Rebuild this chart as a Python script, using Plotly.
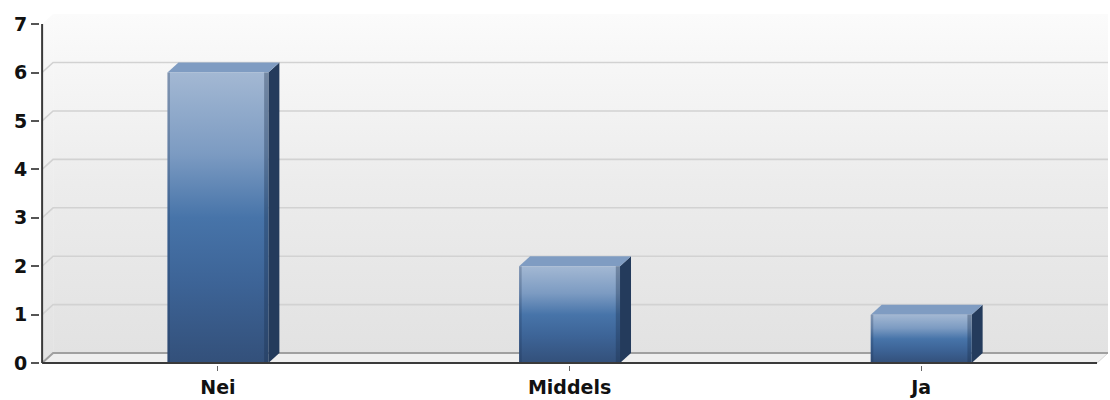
import plotly.graph_objects as go

# ---- data ----
categories = ["Nei", "Middels", "Ja"]
values = [6, 2, 1]
y_ticks = [0, 1, 2, 3, 4, 5, 6, 7]
y_max = 7

# ---- geometry (in axis units) ----
BAR_W = 0.287          # bar width in category units
DX = 11 / 351.6        # 3D depth offset along x
DY = 10 / 48.42        # 3D depth offset along y
X0, X1 = -0.5, len(categories) - 0.5

fig = go.Figure()

wall_grad = dict(type="vertical",
                 colorscale=[[0, "#e2e2e2"], [0.5, "#ececec"], [1, "#fbfbfb"]])

# back wall
fig.add_trace(go.Scatter(
    x=[X0 + DX, X1 + DX, X1 + DX, X0 + DX, X0 + DX],
    y=[DY, DY, y_max + DY, y_max + DY, DY],
    mode="none", fill="toself", fillgradient=wall_grad,
    hoverinfo="skip", showlegend=False))
# left side wall
fig.add_trace(go.Scatter(
    x=[X0, X0 + DX, X0 + DX, X0, X0],
    y=[0, DY, y_max + DY, y_max, 0],
    mode="none", fill="toself", fillgradient=wall_grad,
    hoverinfo="skip", showlegend=False))
# floor
fig.add_trace(go.Scatter(
    x=[X0, X0 + DX, X1 + DX, X1, X0],
    y=[0, DY, DY, 0, 0],
    mode="lines", fill="toself", fillcolor="#efefef",
    line=dict(color="#d6d6d6", width=1),
    hoverinfo="skip", showlegend=False))
# floor back edge
fig.add_trace(go.Scatter(
    x=[X0, X0 + DX, X1 + DX], y=[0, DY, DY],
    mode="lines", line=dict(color="#a0a0a0", width=2),
    hoverinfo="skip", showlegend=False))

# gridlines on the walls
gx, gy = [], []
for k in y_ticks[1:-1]:
    gx += [X0, X0 + DX, X1 + DX, None]
    gy += [k, k + DY, k + DY, None]
fig.add_trace(go.Scatter(x=gx, y=gy, mode="lines",
                         line=dict(color="#d2d2d2", width=1.6),
                         hoverinfo="skip", showlegend=False))

front_grad = dict(type="vertical",
                  colorscale=[[0, "#33507a"], [0.28, "#3d6497"], [0.5, "#4774a9"],
                              [0.72, "#7c9bc2"], [1, "#a3b8d3"]])

for i, (c, v) in enumerate(zip(categories, values)):
    xl, xr = i - BAR_W / 2, i + BAR_W / 2
    # side face
    fig.add_trace(go.Scatter(
        x=[xr, xr + DX, xr + DX, xr, xr], y=[0, DY, v + DY, v, 0],
        mode="none", fill="toself", fillcolor="#243b5c",
        hoverinfo="skip", showlegend=False))
    # top face
    fig.add_trace(go.Scatter(
        x=[xl, xl + DX, xr + DX, xr, xl], y=[v, v + DY, v + DY, v, v],
        mode="none", fill="toself", fillcolor="#7f9cc2",
        hoverinfo="skip", showlegend=False))
    # front face
    fig.add_trace(go.Scatter(
        x=[xl, xr, xr, xl, xl], y=[0, 0, v, v, 0],
        mode="none", fill="toself", fillgradient=front_grad,
        name=c, hoveron="fills", text=f"{c}: {v}", hoverinfo="text",
        showlegend=False))
    # edge shading on the front face
    e = 0.012
    fig.add_trace(go.Scatter(
        x=[xr - e, xr, xr, xr - e, xr - e], y=[0, 0, v, v, 0],
        mode="none", fill="toself", fillcolor="rgba(25,45,75,0.35)",
        hoverinfo="skip", showlegend=False))
    fig.add_trace(go.Scatter(
        x=[xl, xl + e * 0.6, xl + e * 0.6, xl, xl], y=[0, 0, v, v, 0],
        mode="none", fill="toself", fillcolor="rgba(25,45,75,0.25)",
        hoverinfo="skip", showlegend=False))

# axis lines
fig.add_trace(go.Scatter(x=[X0, X0], y=[0, y_max], mode="lines",
                         line=dict(color="#3a3a3a", width=2),
                         hoverinfo="skip", showlegend=False))
fig.add_trace(go.Scatter(x=[X0, X1], y=[0, 0], mode="lines",
                         line=dict(color="#3a3a3a", width=2),
                         hoverinfo="skip", showlegend=False))

fig.update_layout(
    width=1110, height=400,
    margin=dict(l=40, r=2, t=12, b=35),
    paper_bgcolor="white", plot_bgcolor="white",
    showlegend=False,
    xaxis=dict(range=[X0 - 0.006, X1 + DX], showgrid=False, zeroline=False,
               showline=False, tickmode="array", automargin=False,
               tickvals=list(range(len(categories))), ticktext=categories,
               ticks="outside", ticklen=5, tickwidth=1, tickcolor="#666",
               tickfont=dict(family="DejaVu Sans", size=19, color="#111",
                             weight="bold"),
               fixedrange=True),
    yaxis=dict(range=[-0.04, y_max + 0.25], showgrid=False, zeroline=False,
               showline=False, tickmode="array", tickvals=y_ticks,
               automargin=False,
               ticktext=[str(t) for t in y_ticks],
               ticks="outside", ticklen=8, tickwidth=2, tickcolor="#555",
               ticklabelstandoff=0,
               tickfont=dict(family="DejaVu Sans", size=19, color="#111",
                             weight="bold"),
               fixedrange=True),
)

fig.write_html("out.html")
